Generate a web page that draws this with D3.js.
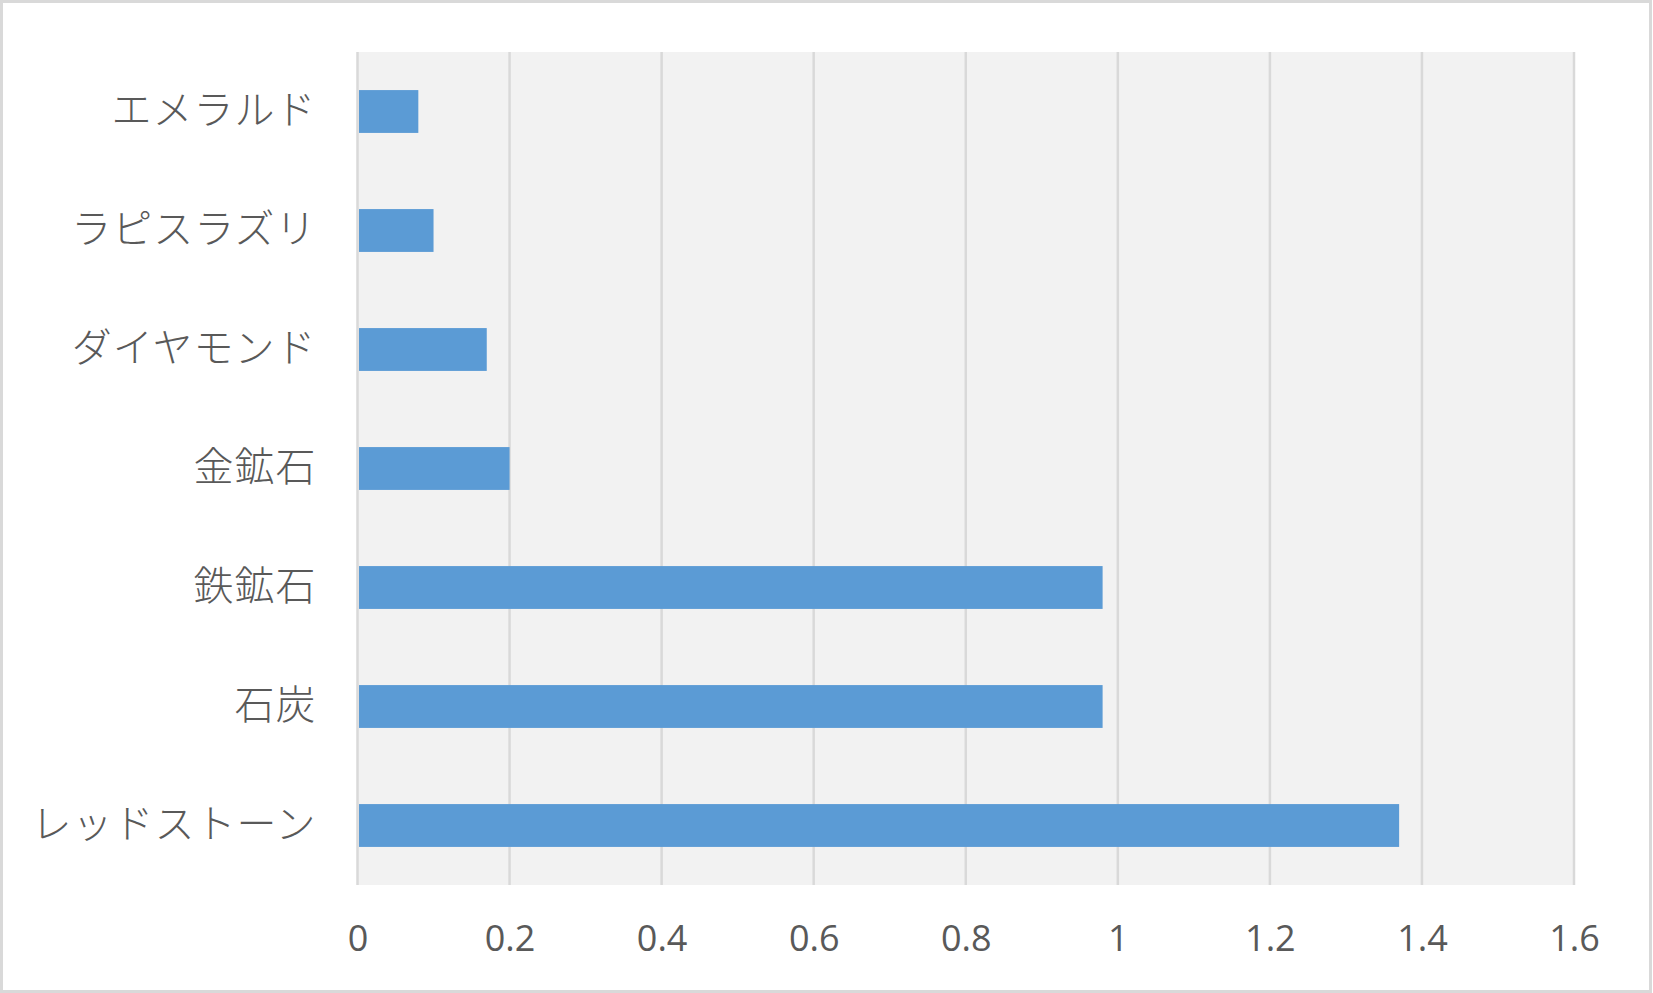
<!DOCTYPE html>
<html><head><meta charset="utf-8">
<script src="https://cdn.jsdelivr.net/npm/d3@7"></script>
<style>html,body{margin:0;padding:0;background:#fff;}</style>
</head><body>
<svg id="c" width="1653" height="993"></svg>
<script>
const categories = ["エメラルド","ラピスラズリ","ダイヤモンド","金鉱石","鉄鉱石","石炭","レッドストーン"];
const values = [0.08, 0.10, 0.17, 0.20, 0.98, 0.98, 1.37];
const xTicks = [0,0.2,0.4,0.6,0.8,1,1.2,1.4,1.6];

const W = 1653, H = 993;
const m = {left: 357.5, right: 1574, top: 52, bottom: 885};
const svg = d3.select("#c");

svg.append("rect").attr("x",1.5).attr("y",1.5).attr("width",W-4).attr("height",H-3)
  .attr("fill","#fff").attr("stroke","#d9d9d9").attr("stroke-width",3);

const x = d3.scaleLinear().domain([0,1.6]).range([m.left, m.right]);
const y = d3.scaleBand().domain(categories).range([m.top, m.bottom]).paddingInner(0.64).paddingOuter(0.32);

svg.append("rect").attr("x",m.left).attr("y",m.top).attr("width",m.right-m.left).attr("height",m.bottom-m.top)
  .attr("fill","#f2f2f2");

svg.append("g").selectAll("line").data(xTicks).join("line")
  .attr("x1",d=>x(d)).attr("x2",d=>x(d)).attr("y1",m.top).attr("y2",m.bottom)
  .attr("stroke","#d9d9d9").attr("stroke-width",2.5);

svg.append("g").selectAll("rect").data(categories).join("rect")
  .attr("x",x(0)+1.5).attr("y",d=>y(d))
  .attr("width",(d,i)=>x(values[i])-x(0)-1.5).attr("height",y.bandwidth())
  .attr("fill","#5b9bd5");

const xa = svg.append("g").attr("transform",`translate(0,${m.bottom})`)
  .call(d3.axisBottom(x).tickValues(xTicks).tickFormat(d=>String(d)).tickSize(0).tickPadding(0));
xa.select(".domain").remove();
xa.selectAll("text").attr("y",66).attr("dy",0).attr("font-family","'Open Sans', sans-serif").attr("font-size",36).attr("fill","#595959");

const ya = svg.append("g").attr("transform",`translate(${m.left},0)`)
  .call(d3.axisLeft(y).tickSize(0).tickPadding(41));
ya.select(".domain").remove();
ya.selectAll("text").attr("dy","0.3em").attr("font-family","'Noto Sans CJK JP', sans-serif").attr("font-weight",300)
  .attr("font-size",40).attr("letter-spacing",1).attr("fill","#595959");
</script>
</body></html>
